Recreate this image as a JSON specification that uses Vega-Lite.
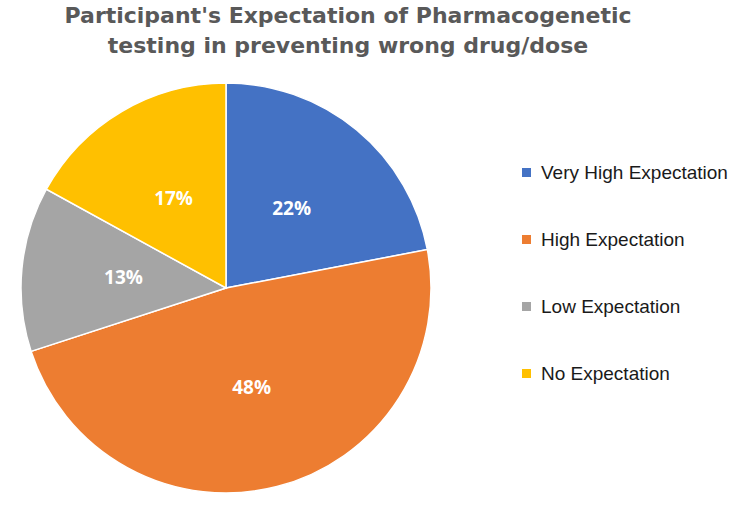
{
  "$schema": "https://vega.github.io/schema/vega-lite/v6.json",
  "width": 410,
  "height": 410,
  "autosize": "none",
  "padding": {"left": 21, "top": 83, "right": 304, "bottom": 14},
  "background": "white",
  "title": {
    "text": ["Participant's Expectation of Pharmacogenetic", "testing in preventing wrong drug/dose"],
    "font": "DejaVu Sans",
    "fontSize": 22,
    "fontWeight": "bold",
    "color": "#595959",
    "anchor": "middle",
    "dx": 122,
    "offset": 22,
    "lineHeight": 30
  },
  "data": {
    "values": [
      {"category": "Very High Expectation", "value": 22, "label": "22%", "idx": 1},
      {"category": "High Expectation", "value": 48, "label": "48%", "idx": 2},
      {"category": "Low Expectation", "value": 13, "label": "13%", "idx": 3},
      {"category": "No Expectation", "value": 17, "label": "17%", "idx": 4}
    ]
  },
  "encoding": {
    "theta": {"field": "value", "type": "quantitative", "stack": true},
    "order": {"field": "idx", "type": "quantitative"}
  },
  "layer": [
    {
      "mark": {"type": "arc", "stroke": "white", "strokeWidth": 1.5},
      "encoding": {
        "color": {
          "field": "category",
          "type": "nominal",
          "sort": ["Very High Expectation", "High Expectation", "Low Expectation", "No Expectation"],
          "scale": {
            "domain": ["Very High Expectation", "High Expectation", "Low Expectation", "No Expectation"],
            "range": ["#4472C4", "#ED7D31", "#A5A5A5", "#FFC000"]
          },
          "legend": {
            "title": null,
            "orient": "none",
            "legendX": 496,
            "legendY": 80,
            "padding": 0,
            "symbolType": "square",
            "symbolSize": 81,
            "symbolStrokeWidth": 0,
            "labelFont": "Liberation Sans",
            "labelFontSize": 19,
            "labelColor": "#1a1a1a",
            "labelOffset": 5,
            "labelLimit": 300,
            "rowPadding": 47
          }
        }
      }
    },
    {
      "mark": {"type": "text", "radius": 103, "font": "Open Sans", "fontSize": 19, "fontWeight": "bold", "color": "white"},
      "encoding": {
        "text": {"field": "label", "type": "nominal"}
      }
    }
  ]
}
